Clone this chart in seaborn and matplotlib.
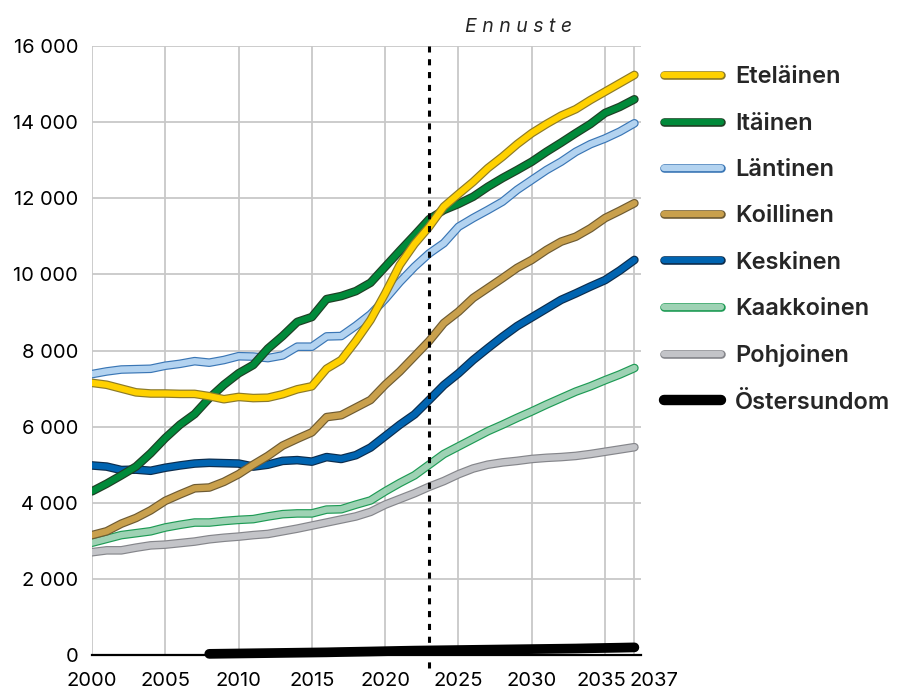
import matplotlib
matplotlib.use("Agg")
import matplotlib.pyplot as plt
import matplotlib.patheffects as pe
from matplotlib.lines import Line2D
from matplotlib.ticker import FuncFormatter
from matplotlib.transforms import ScaledTranslation
import seaborn as sns
import pandas as pd

# Vuodet
years = list(range(2000, 2038))
years_ost = list(range(2008, 2038))

etelainen = [7150, 7100, 7000, 6900, 6870, 6870, 6860, 6860, 6800, 6720,
             6780, 6750, 6760, 6850, 6980, 7060, 7520, 7750, 8250, 8800,
             9500, 10250, 10800, 11250, 11780, 12110, 12430, 12790, 13090, 13420,
             13710, 13950, 14170, 14340, 14580, 14800, 15020, 15240]
itainen = [4300, 4500, 4720, 4950, 5300, 5700, 6050, 6330, 6750, 7100,
           7400, 7620, 8050, 8380, 8750, 8880, 9350, 9430, 9560, 9780,
           10200, 10620, 11030, 11450, 11690, 11850, 12040, 12300, 12530, 12740,
           12960, 13220, 13460, 13710, 13950, 14240, 14400, 14600]
lantinen = [7380, 7450, 7500, 7510, 7520, 7600, 7650, 7720, 7680, 7750,
            7850, 7840, 7800, 7870, 8100, 8100, 8370, 8380, 8650, 8950,
            9350, 9800, 10200, 10550, 10820, 11250, 11480, 11690, 11910, 12220,
            12480, 12740, 12960, 13220, 13420, 13570, 13750, 13970]
koillinen = [3150, 3250, 3450, 3600, 3800, 4050, 4220, 4380, 4400, 4550,
             4750, 5000, 5230, 5500, 5680, 5850, 6250, 6300, 6500, 6700,
             7100, 7450, 7850, 8250, 8720, 9020, 9380, 9640, 9900, 10170,
             10380, 10640, 10860, 10990, 11210, 11480, 11670, 11870]
keskinen = [4980, 4950, 4860, 4870, 4840, 4920, 4980, 5030, 5050, 5040,
            5030, 4950, 5000, 5100, 5120, 5080, 5200, 5150, 5250, 5450,
            5750, 6050, 6320, 6700, 7090, 7400, 7750, 8060, 8360, 8640,
            8870, 9100, 9330, 9500, 9680, 9850, 10100, 10380]
kaakkoinen = [2950, 3050, 3150, 3200, 3250, 3350, 3420, 3480, 3480, 3520,
              3550, 3570, 3640, 3700, 3720, 3720, 3820, 3830, 3950, 4060,
              4300, 4520, 4720, 5000, 5280, 5480, 5680, 5880, 6050, 6230,
              6400, 6580, 6750, 6920, 7060, 7220, 7370, 7540]
pohjoinen = [2700, 2750, 2750, 2820, 2880, 2900, 2940, 2980, 3040, 3080,
             3110, 3150, 3180, 3250, 3320, 3400, 3480, 3560, 3640, 3760,
             3950, 4100, 4250, 4420, 4570, 4750, 4900, 5000, 5060, 5100,
             5150, 5180, 5200, 5230, 5280, 5340, 5400, 5460]
ostersundom = [30, 35, 40, 45, 50, 55, 60, 65, 70, 78,
               85, 92, 100, 108, 115, 120, 125, 130, 135, 140,
               145, 150, 155, 160, 165, 170, 178, 185, 192, 200]

ennuste_year = 2023
xticks = [2000, 2005, 2010, 2015, 2020, 2025, 2030, 2035, 2037]
yticks = [0, 2000, 4000, 6000, 8000, 10000, 12000, 14000, 16000]

# nimi, data, täyttöväri, reunaväri
series = [
    ("Eteläinen", etelainen, "#FFD100", "#8C7A28"),
    ("Itäinen", itainen, "#008A3A", "#1F3F25"),
    ("Läntinen", lantinen, "#B3D3F0", "#3A76B5"),
    ("Koillinen", koillinen, "#C9A04C", "#6E5B33"),
    ("Keskinen", keskinen, "#0064B1", "#0D2D4D"),
    ("Kaakkoinen", kaakkoinen, "#9ED2B4", "#1E9B55"),
    ("Pohjoinen", pohjoinen, "#C3C4C8", "#85868B"),
]

sns.set_style("white")
plt.rcParams['font.family'] = ['Inter', 'DejaVu Sans']

fig = plt.figure(figsize=(8.97, 6.91), dpi=100)
ax = fig.add_axes([92 / 897, 1 - 655 / 691, (641 - 92) / 897, (655 - 46) / 691])

for name, vals, fill, edge in reversed(series):
    df = pd.DataFrame({"vuosi": years, "asukkaat": vals})
    effects = [pe.Stroke(linewidth=6.2, foreground=edge), pe.Normal()]
    sns.lineplot(data=df, x="vuosi", y="asukkaat", color=fill, lw=4.5,
                 solid_capstyle="round", solid_joinstyle="round",
                 path_effects=effects, ax=ax, zorder=3)

df_ost = pd.DataFrame({"vuosi": years_ost, "asukkaat": ostersundom})
sns.lineplot(data=df_ost, x="vuosi", y="asukkaat", color="black", lw=7,
             solid_capstyle="round", ax=ax, zorder=3, clip_on=False)

handles = []
for name, vals, fill, edge in series:
    handles.append(Line2D([0], [0], color=fill, lw=4.5, solid_capstyle="round",
                          path_effects=[pe.Stroke(linewidth=6.2, foreground=edge), pe.Normal()],
                          label=name))
handles.append(Line2D([0], [0], color="black", lw=7.5, solid_capstyle="round", label="Östersundom"))

ax.axvline(ennuste_year, ymin=-0.022, ymax=1, color="black", lw=2.2,
           linestyle=(0, (2, 2.2)), clip_on=False, zorder=4)
ax.text(ennuste_year + 6.1, 16000 + 250, "E n n u s t e", ha="center", va="bottom",
        fontsize=14, style="italic")

ax.set_xlim(2000, 2037.45)
ax.set_ylim(0, 16000)
ax.set_xticks(xticks)
ax.set_yticks(yticks)
ax.yaxis.set_major_formatter(FuncFormatter(lambda v, p: f"{v:,.0f}".replace(",", " ")))
ax.grid(True, color="#C8C8C8", lw=1.3)
ax.set_axisbelow(True)
ax.tick_params(axis="both", labelsize=14.5, colors="#C8C8C8", labelcolor="black",
               width=1.3)
ax.tick_params(axis="x", length=11, pad=1)
ax.tick_params(axis="y", length=6, pad=4)
ax.set_xlabel("")
ax.set_ylabel("")

# 2035 ja 2037 vierekkäin
xlabels = ax.get_xticklabels()
xlabels[-2].set_transform(xlabels[-2].get_transform() + ScaledTranslation(-4 / 100, 0, fig.dpi_scale_trans))
xlabels[-1].set_transform(xlabels[-1].get_transform() + ScaledTranslation(-5 / 100, 0, fig.dpi_scale_trans))
xlabels[-1].set_ha("left")

for s in ["left", "right", "top"]:
    ax.spines[s].set_visible(False)
ax.spines["bottom"].set_color("black")
ax.spines["bottom"].set_linewidth(1.6)
ax.spines["bottom"].set_zorder(2)

leg = fig.legend(handles=handles, loc="upper left", bbox_to_anchor=(655 / 897, 1 - 57 / 691),
                 frameon=False, fontsize=17, handlelength=2.4, handletextpad=0.6,
                 labelspacing=1.03, borderaxespad=0)
for t in leg.get_texts():
    t.set_fontweight("semibold")

fig.savefig("out.png", dpi=100)
